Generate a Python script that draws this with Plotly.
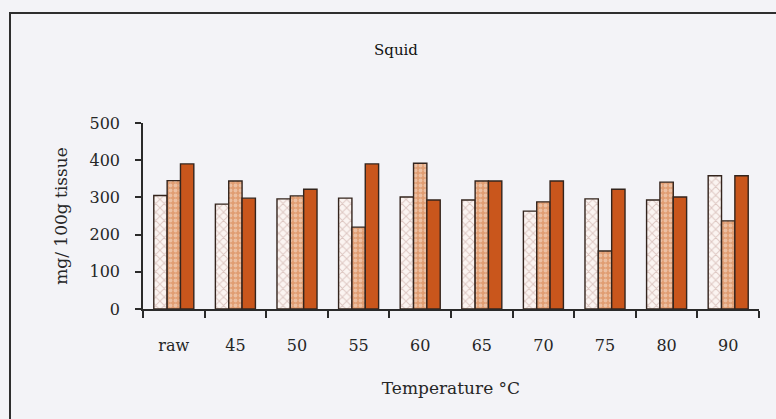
import plotly.graph_objects as go

# Temperature treatments (category labels)
temperatures = ["raw", "45", "50", "55", "60", "65", "70", "75", "80", "90"]

# Three measured series, mg / 100 g tissue
series_a = [305, 282, 296, 298, 301, 293, 263, 296, 293, 358]
series_b = [345, 344, 304, 220, 392, 344, 288, 156, 341, 237]
series_c = [390, 298, 322, 390, 293, 344, 344, 322, 301, 358]

y_ticks = [0, 100, 200, 300, 400, 500]

FONT = "DejaVu Serif, Liberation Serif, serif"
OUTLINE = "#33241d"
BG = "#f3f3f7"
INK = "#262626"

fig = go.Figure()

fig.add_trace(go.Bar(
    x=temperatures, y=series_a, name="A",
    marker=dict(
        color="#fbf6f4",
        line=dict(color=OUTLINE, width=1.4),
        pattern=dict(shape="x", fgcolor="#bf9a92", bgcolor="#fbf4f1",
                     size=6, solidity=0.3),
    ),
))
fig.add_trace(go.Bar(
    x=temperatures, y=series_b, name="B",
    marker=dict(
        color="#e9b593",
        line=dict(color=OUTLINE, width=1.4),
        pattern=dict(shape=".", fgcolor="#f8e2d2", bgcolor="#e09d72",
                     size=5, solidity=0.45),
    ),
))
fig.add_trace(go.Bar(
    x=temperatures, y=series_c, name="C",
    marker=dict(color="#c9561c", line=dict(color=OUTLINE, width=1.4)),
))

# Outer frame around the figure
fig.add_shape(
    type="rect", xref="paper", yref="paper",
    x0=(10 - 143) / 616, x1=1.2,
    y0=-1.0, y1=(309 - 13) / 186,
    line=dict(color="#2e2e2e", width=2), fillcolor="rgba(0,0,0,0)",
    layer="below",
)

fig.add_annotation(
    text="Squid", xref="paper", yref="paper",
    x=(396 - 143) / 616, y=(309 - 50) / 186,
    showarrow=False, font=dict(family=FONT, size=15, color="#111"),
    xanchor="center", yanchor="middle",
)

fig.update_layout(
    width=776, height=419,
    margin=dict(l=143, r=17, t=123, b=110),
    paper_bgcolor=BG, plot_bgcolor=BG,
    barmode="group", bargap=0.35, bargroupgap=0,
    showlegend=False,
    font=dict(family=FONT, size=16, color=INK),
)

fig.update_xaxes(
    showline=True, linecolor="#2a2a2a", linewidth=1.5,
    ticks="outside", tickson="boundaries", ticklen=7, tickwidth=1.5,
    tickcolor="#2a2a2a", ticklabelstandoff=21,
    tickfont=dict(family=FONT, size=16, color=INK),
    title=dict(text="Temperature °C", standoff=28,
               font=dict(family=FONT, size=17, color=INK)),
    showgrid=False, zeroline=False,
)
fig.update_yaxes(
    range=[0, 500], tickvals=y_ticks,
    showline=True, linecolor="#2a2a2a", linewidth=1.5,
    ticks="outside", ticklen=6, tickwidth=1.5, tickcolor="#2a2a2a",
    ticklabelstandoff=12,
    tickfont=dict(family=FONT, size=16, color=INK),
    title=dict(text="mg/ 100g tissue", standoff=18,
               font=dict(family=FONT, size=17, color=INK)),
    showgrid=False, zeroline=False,
)

fig.write_html("out.html")
